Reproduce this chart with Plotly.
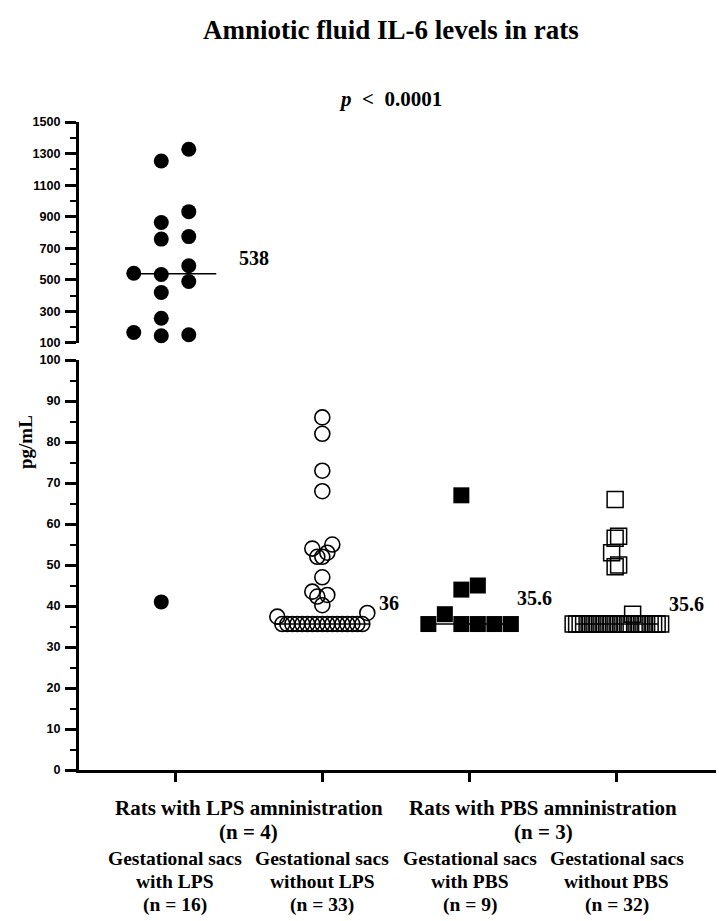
import numpy as np
import plotly.graph_objects as go

# ---------------- data ----------------
group_labels = [["Gestational sacs", "with LPS", "(n = 16)"],
                ["Gestational sacs", "without LPS", "(n = 33)"],
                ["Gestational sacs", "with PBS", "(n = 9)"],
                ["Gestational sacs", "without PBS", "(n = 32)"]]
rat_labels = [["Rats with LPS amninistration", "(n = 4)"],
              ["Rats with PBS amninistration", "(n = 3)"]]

sacs_with_lps = [41, 146, 152, 166, 257, 420, 489, 534, 542, 589, 758, 774,
                 863, 932, 1253, 1327]
sacs_without_lps = [35.6, 35.6, 35.6, 35.6, 35.6, 35.6, 35.6, 35.6, 35.6,
                    35.6, 35.6, 35.6, 35.6, 35.6, 35.6, 35.6, 35.6,
                    37.4, 38.3, 40.2, 42.3, 42.7, 43.5, 47, 52, 52, 53, 54, 55,
                    68, 73, 82, 86]
sacs_with_pbs = [35.6, 35.6, 38, 35.6, 35.6, 35.6, 44, 45, 67]
sacs_without_pbs = [35.6, 35.6, 35.6, 35.6, 35.6, 35.6, 35.6, 35.6, 35.6, 38,
                    35.6, 35.6, 35.6, 35.6, 35.6, 35.6, 35.6, 35.6, 35.6, 35.6,
                    35.6, 35.6, 35.6, 35.6, 35.6, 35.6,
                    49.6, 50, 53, 56.5, 57, 66]
median_labels = ["538", "36", "35.6", "35.6"]
lower_ticks = [0, 10, 20, 30, 40, 50, 60, 70, 80, 90, 100]
lower_minor = [5, 15, 25, 35, 45, 55, 65, 75, 85, 95]
upper_ticks = [100, 300, 500, 700, 900, 1100, 1300, 1500]
upper_minor = [200, 400, 600, 800, 1000, 1200, 1400]

groups = [sacs_with_lps, sacs_without_lps, sacs_with_pbs, sacs_without_pbs]

# ---------------- layout constants (page pixels) ----------------
W, H = 719, 921
PLOT_L, PLOT_R, PLOT_T, PLOT_B = 79, 716, 122, 770
ML, MR, MT, MB = PLOT_L, W - PLOT_R, PLOT_T, H - PLOT_B
PW, PH = PLOT_R - PLOT_L, PLOT_B - PLOT_T
X_RANGE = [-0.652, 3.673]
LOW_DOM, UP_DOM = [0, 0.6327], [0.659, 1.0]
LOW_RANGE, UP_RANGE = [0, 100], [100, 1500]
BREAK = 100
px_x = PW / (X_RANGE[1] - X_RANGE[0])
px_low = PH * (LOW_DOM[1] - LOW_DOM[0]) / (LOW_RANGE[1] - LOW_RANGE[0])
px_up = PH * (UP_DOM[1] - UP_DOM[0]) / (UP_RANGE[1] - UP_RANGE[0])

SERIF = "Liberation Serif"
SANS = "Liberation Sans"

styles = [
    dict(symbol="circle", size=15, line=dict(width=0, color="black"), color="black"),
    dict(symbol="circle-open", size=15, line=dict(width=1.6, color="black"), color="black"),
    dict(symbol="square", size=16, line=dict(width=0, color="black"), color="black"),
    dict(symbol="square-open", size=16, line=dict(width=1.5, color="black"), color="black"),
]
# swarm settings per group: grid step / min horizontal gap (px),
# min vertical gap (px), whether the grid has a centre slot
swarm_step = [27.5, 5, 16.5, 3.5]
swarm_vgap = [15, 15, 16, 16]
swarm_centered = [False, True, False, False]
median_half = [0.28, 0.32, 0.28, 0.28]
label_shift = [(62, 16), (55, 21), (45, 26), (50, 20)]


def candidates(step, centered, n=80):
    out = [0.0] if centered else []
    for k in range(1, n):
        base = k if centered else k - 0.5
        out += [-base * step, base * step]
    return out


def swarm(vals, px_per_unit, step, vgap, centered):
    """Greedy beeswarm in pixel space with an elliptical exclusion zone."""
    ys = np.asarray(vals, float) * px_per_unit
    placed = []
    offs = []
    for y in ys:
        for c in candidates(step, centered):
            ok = True
            for (px, pyy) in placed:
                if ((c - px) / step) ** 2 + ((y - pyy) / vgap) ** 2 < 0.999:
                    ok = False
                    break
            if ok:
                placed.append((c, y))
                offs.append(c)
                break
    return np.array(offs) / px_x


fig = go.Figure()

for gi, vals in enumerate(groups):
    v = np.asarray(vals, float)
    for mask, ppu, yref in ((v > BREAK, px_up, "y2"), (v <= BREAK, px_low, "y")):
        sub = v[mask]
        if len(sub) == 0:
            continue
        offs = swarm(sub, ppu, swarm_step[gi], swarm_vgap[gi], swarm_centered[gi])
        fig.add_trace(go.Scatter(
            x=gi + offs, y=sub, mode="markers", marker=styles[gi],
            yaxis=yref, cliponaxis=False, showlegend=False, hoverinfo="y"))
    med = float(np.median(v))
    yref = "y2" if med > BREAK else "y"
    fig.add_trace(go.Scatter(
        x=[gi - median_half[gi], gi + median_half[gi]], y=[med, med],
        mode="lines", line=dict(color="black", width=1.5), yaxis=yref,
        cliponaxis=False, showlegend=False, hoverinfo="skip"))
    fig.add_annotation(
        x=gi, y=med, xref="x", yref=yref, text="<b>%s</b>" % median_labels[gi],
        showarrow=False, xanchor="left", yanchor="middle",
        xshift=label_shift[gi][0], yshift=label_shift[gi][1],
        font=dict(family=SERIF, size=20, color="black"))


def py(pix):
    """page pixel row -> paper y"""
    return (PLOT_B - pix) / PH


def pxx(pix):
    """page pixel column -> paper x"""
    return (pix - PLOT_L) / PW


CAT_FONT = dict(family=SERIF, size=19.5, color="black")
RAT_FONT = dict(family=SERIF, size=21, color="black")
group_rows = [858, 882, 905]
for gi, lines in enumerate(group_labels):
    for line, row in zip(lines, group_rows):
        fig.add_annotation(x=gi, y=py(row), xref="x", yref="paper",
                           text="<b>%s</b>" % line, showarrow=False,
                           xanchor="center", yanchor="middle", font=CAT_FONT)
rat_rows = [808, 832]
for ri, lines in enumerate(rat_labels):
    for line, row in zip(lines, rat_rows):
        fig.add_annotation(x=2 * ri + 0.5, y=py(row), xref="x", yref="paper",
                           text="<b>%s</b>" % line, showarrow=False,
                           xanchor="center", yanchor="middle", font=RAT_FONT)

fig.add_annotation(x=pxx(391), y=py(30), xref="paper", yref="paper",
                   text="<b>Amniotic fluid IL-6 levels in rats</b>",
                   showarrow=False, xanchor="center", yanchor="middle",
                   font=dict(family=SERIF, size=27, color="black"))
fig.add_annotation(x=pxx(390), y=py(99), xref="paper", yref="paper",
                   text="<b><i>p</i>&nbsp;&nbsp;&lt;&nbsp;&nbsp;0.0001</b>",
                   showarrow=False, xanchor="center", yanchor="middle",
                   font=dict(family=SERIF, size=21, color="black"))
fig.add_annotation(x=pxx(25), y=py(442), xref="paper", yref="paper",
                   text="<b>pg/mL</b>", textangle=-90,
                   showarrow=False, xanchor="center", yanchor="middle",
                   font=dict(family=SERIF, size=19, color="black"))

tickfont = dict(family=SANS, size=12.6, color="black", weight="bold")
common_y = dict(showline=True, linewidth=3, linecolor="black", ticks="outside",
                ticklen=11, tickwidth=2.5, tickcolor="black", showgrid=False,
                zeroline=False, tickfont=tickfont, anchor="x", ticklabelstandoff=2)

fig.update_layout(
    width=W, height=H, autosize=False,
    margin=dict(l=ML, r=MR, t=MT, b=MB, pad=0),
    paper_bgcolor="white", plot_bgcolor="white",
    showlegend=False,
    xaxis=dict(range=X_RANGE, showline=True, linewidth=3, linecolor="black",
               ticks="outside", tickvals=[0, 1, 2, 3], ticklen=9, tickwidth=2.5,
               tickcolor="black", showticklabels=False, showgrid=False,
               zeroline=False, anchor="y", fixedrange=True),
    yaxis=dict(domain=LOW_DOM, range=LOW_RANGE, tickvals=lower_ticks,
               minor=dict(tickvals=lower_minor, ticklen=6, tickwidth=2,
                          tickcolor="black", ticks="outside"),
               **common_y),
    yaxis2=dict(domain=UP_DOM, range=UP_RANGE, tickvals=upper_ticks,
                minor=dict(tickvals=upper_minor, ticklen=6, tickwidth=2,
                           tickcolor="black", ticks="outside"),
                **common_y),
)

# remove the default 8px page margin so the figure sits at the window origin
fig.write_html("out.html", config={"displayModeBar": False},
               post_script="document.body.style.margin='0px';"
                           "document.documentElement.style.overflow='hidden';")
